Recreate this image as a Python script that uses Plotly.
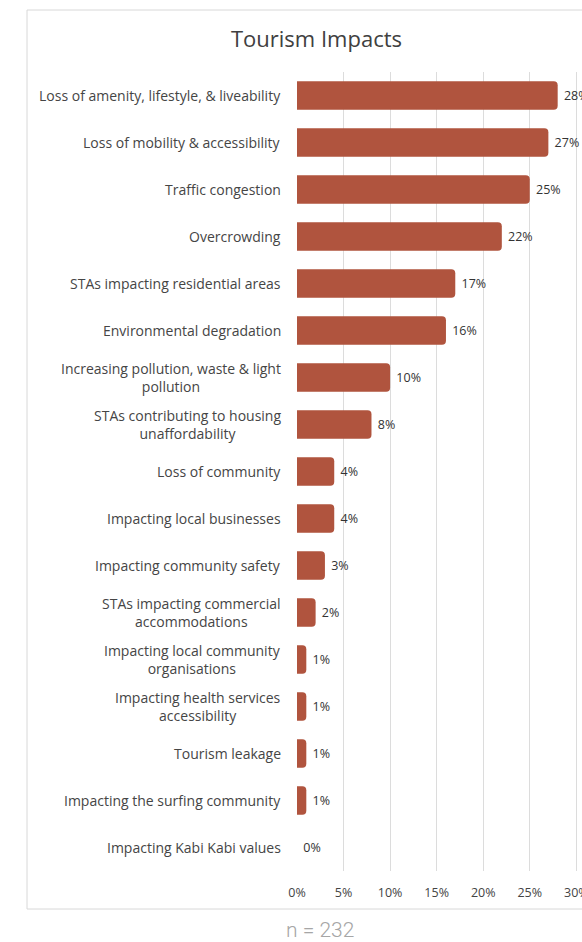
import plotly.graph_objects as go

# Survey responses: share of respondents (%) naming each tourism impact, n = 232
categories = [
    "Loss of amenity, lifestyle, & liveability",
    "Loss of mobility & accessibility",
    "Traffic congestion",
    "Overcrowding",
    "STAs impacting residential areas",
    "Environmental degradation",
    "Increasing pollution, waste & light<br>pollution",
    "STAs contributing to housing<br>unaffordability",
    "Loss of community",
    "Impacting local businesses",
    "Impacting community safety",
    "STAs impacting commercial<br>accommodations",
    "Impacting local community<br>organisations",
    "Impacting health services<br>accessibility",
    "Tourism leakage",
    "Impacting the surfing community",
    "Impacting Kabi Kabi values",
]
shares = [28, 27, 25, 22, 17, 16, 10, 8, 4, 4, 3, 2, 1, 1, 1, 1, 0]
tick_values = [0, 5, 10, 15, 20, 25, 30]
tick_labels = ["0%", "5%", "10%", "15%", "20%", "25%", "30%"]
sample_note = "n = 232"

BAR_COLOR = "#B0543E"
FONT = "Open Sans"

W, H = 582, 942
M_L, M_R, M_T, M_B = 297, 0, 72, 71
plot_w = W - M_L - M_R
plot_h = H - M_T - M_B

fig = go.Figure(
    go.Bar(
        x=shares,
        y=categories,
        orientation="h",
        marker=dict(color=BAR_COLOR, cornerradius=4, line=dict(width=0)),
        texttemplate=" %{x:.0f}%",
        textposition="outside",
        textfont=dict(family=FONT, size=12.5, color="#333333"),
        constraintext="none",
        cliponaxis=False,
        hoverinfo="skip",
    )
)

# category labels, centred on each line and right-aligned against the axis
for cat in categories:
    fig.add_annotation(
        x=0, xref="paper", xshift=-14, xanchor="right",
        y=cat, yref="y", yanchor="middle",
        text=cat, showarrow=False, align="center",
        font=dict(family=FONT, size=14, color="#454545"),
    )

# outer frame of the chart card
fig.add_shape(
    type="rect", xref="paper", yref="paper",
    x0=(27 - M_L) / plot_w, x1=1.05,
    y0=(H - M_B - 909) / plot_h, y1=(H - M_B - 10) / plot_h,
    line=dict(color="#d8d8d8", width=1), fillcolor="rgba(0,0,0,0)",
    layer="below",
)

fig.add_annotation(
    x=(320 - M_L) / plot_w, xref="paper", xanchor="center",
    y=(H - M_B - 930) / plot_h, yref="paper", yanchor="middle",
    text=sample_note, showarrow=False,
    font=dict(family="Roboto", size=21, color="#a6a6a6", weight=300),
)

fig.update_layout(
    width=W, height=H,
    margin=dict(l=M_L, r=M_R, t=M_T, b=M_B, pad=0, autoexpand=False),
    paper_bgcolor="white", plot_bgcolor="white",
    bargap=0.39,
    showlegend=False,
    title=dict(
        text="Tourism Impacts", x=316.5 / W, xref="container", xanchor="center",
        y=1 - 39 / H, yref="container", yanchor="middle",
        font=dict(family=FONT, size=22, color="#404040"),
    ),
    xaxis=dict(
        range=[0, plot_w / 9.31], tickvals=tick_values, ticktext=tick_labels,
        showgrid=True, gridcolor="#dcdcdc", gridwidth=1,
        zeroline=False, showline=False, ticks="",
        ticklabelstandoff=12, ticklabeloverflow="allow",
        automargin=False,
        tickfont=dict(family=FONT, size=12.5, color="#444444"),
        fixedrange=True,
    ),
    yaxis=dict(
        autorange="reversed", showticklabels=False, showgrid=False,
        zeroline=False, showline=False, ticks="", fixedrange=True,
        automargin=False,
    ),
)

fig.write_html("out.html")
